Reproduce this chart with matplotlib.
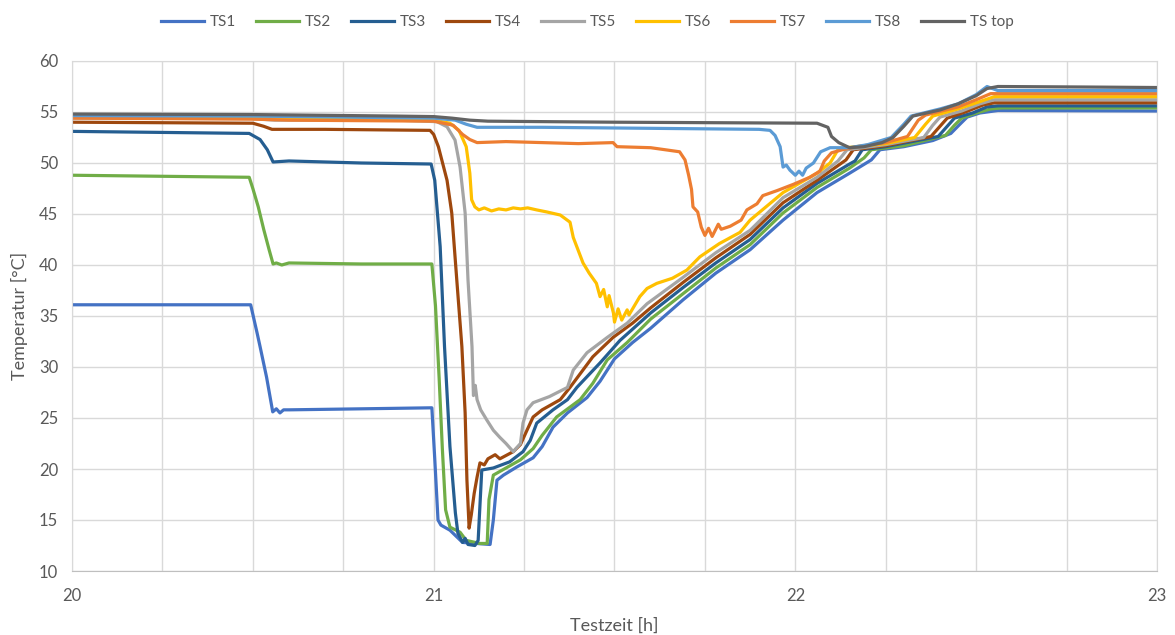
import matplotlib
matplotlib.use('Agg')
import matplotlib.pyplot as plt
from matplotlib.ticker import MultipleLocator

plt.rcParams['font.family'] = ['Lato', 'DejaVu Sans']

# Testzeit [h] / Temperatur [°C] per sensor
t_ts1 = [20.0, 20.494, 20.512, 20.52, 20.538, 20.555, 20.565, 20.575, 20.585, 20.6, 20.8, 20.995,
         21.003, 21.012, 21.02, 21.045, 21.08, 21.156, 21.165, 21.175, 21.193, 21.23, 21.275, 21.3,
         21.33, 21.37, 21.424, 21.46, 21.5, 21.55, 21.6, 21.69, 21.78, 21.875, 21.966, 22.06, 22.15,
         22.21, 22.234, 22.3, 22.38, 22.43, 22.455, 22.475, 22.51, 22.56, 23.0]
ts1 = [36.1, 36.1, 33.3, 32.0, 29.0, 25.6, 25.9, 25.5, 25.8, 25.8, 25.9, 26.0,
       21.0, 15.0, 14.5, 14.0, 12.8, 12.6, 15.0, 18.9, 19.4, 20.2, 21.1, 22.2,
       24.1, 25.5, 27.0, 28.6, 30.8, 32.4, 33.8, 36.6, 39.2, 41.5, 44.4, 47.1, 49.0,
       50.3, 51.3, 51.6, 52.2, 52.9, 53.8, 54.5, 54.9, 55.15, 55.1]

t_ts2 = [20.0, 20.49, 20.5, 20.515, 20.53, 20.545, 20.556, 20.565, 20.58, 20.6, 20.8, 20.995,
         21.005, 21.015, 21.024, 21.033, 21.045, 21.073, 21.09, 21.128, 21.148, 21.153, 21.165,
         21.2, 21.24, 21.275, 21.3, 21.34, 21.405, 21.44, 21.48, 21.535, 21.6, 21.69, 21.78, 21.875,
         21.966, 22.06, 22.15, 22.19, 22.21, 22.3, 22.415, 22.44, 22.46, 22.5, 22.54, 22.57, 23.0]
ts2 = [48.8, 48.6, 47.5, 45.7, 43.5, 41.5, 40.1, 40.2, 40.0, 40.2, 40.1, 40.1,
       36.0, 29.0, 22.0, 16.0, 14.3, 13.8, 13.0, 12.7, 12.7, 17.0, 19.4,
       20.1, 20.9, 22.0, 23.3, 25.1, 26.8, 28.4, 30.7, 32.4, 34.7, 37.2, 39.7, 42.0,
       45.1, 47.6, 49.5, 50.5, 51.3, 51.7, 52.7, 53.7, 54.4, 54.9, 55.3, 55.4, 55.4]

t_ts3 = [20.0, 20.49, 20.52, 20.54, 20.556, 20.6, 20.8, 20.993, 21.003, 21.018, 21.03, 21.045,
         21.06, 21.067, 21.08, 21.087, 21.095, 21.114, 21.123, 21.133, 21.165, 21.21, 21.247,
         21.267, 21.285, 21.33, 21.37, 21.396, 21.46, 21.515, 21.6, 21.69, 21.78, 21.875, 21.966,
         22.06, 22.15, 22.165, 22.185, 22.25, 22.395, 22.42, 22.44, 22.49, 22.53, 22.56, 23.0]
ts3 = [53.1, 52.9, 52.3, 51.3, 50.1, 50.2, 50.0, 49.9, 48.3, 41.8, 32.0, 22.2,
       15.7, 13.7, 12.8, 13.2, 12.6, 12.5, 13.0, 19.9, 20.1, 20.7, 21.7,
       22.8, 24.5, 25.8, 26.8, 28.0, 30.4, 32.6, 35.3, 37.8, 40.2, 42.5, 45.6,
       48.0, 49.9, 50.2, 51.3, 51.6, 52.6, 53.6, 54.4, 54.9, 55.5, 55.6, 55.6]

t_ts4 = [20.0, 20.5, 20.53, 20.553, 20.7, 20.99, 21.0, 21.013, 21.037, 21.05, 21.064, 21.078,
         21.087, 21.092, 21.098, 21.104, 21.112, 21.12, 21.128, 21.14, 21.15, 21.17, 21.183, 21.22,
         21.24, 21.258, 21.275, 21.3, 21.35, 21.377, 21.44, 21.496, 21.55, 21.6, 21.69, 21.78,
         21.875, 21.966, 22.06, 22.14, 22.16, 22.25, 22.375, 22.4, 22.42, 22.47, 22.52, 22.55, 23.0]
ts4 = [54.0, 53.9, 53.6, 53.3, 53.3, 53.2, 52.8, 51.6, 48.3, 45.1, 38.5, 32.0,
       25.5, 18.9, 14.2, 15.5, 17.6, 19.2, 20.6, 20.4, 21.0, 21.4, 21.0, 21.7,
       22.4, 23.8, 25.1, 25.8, 26.8, 28.0, 31.0, 32.9, 34.3, 35.8, 38.3, 40.7,
       43.0, 46.1, 48.3, 50.3, 51.3, 51.7, 52.6, 53.6, 54.4, 55.0, 55.7, 55.9, 55.9]

t_ts5 = [20.0, 20.5, 20.56, 20.9, 21.009, 21.037, 21.059, 21.073, 21.087, 21.095, 21.106, 21.11,
         21.115, 21.12, 21.13, 21.147, 21.165, 21.183, 21.2, 21.22, 21.24, 21.247, 21.258, 21.275,
         21.32, 21.37, 21.386, 21.424, 21.48, 21.535, 21.59, 21.69, 21.78, 21.875, 21.966, 22.06,
         22.118, 22.143, 22.25, 22.355, 22.38, 22.4, 22.46, 22.51, 22.55, 23.0]
ts5 = [54.4, 54.35, 54.2, 54.2, 54.05, 53.55, 52.25, 49.6, 45.1, 38.5, 32.0, 27.2,
       28.2, 26.8, 25.8, 24.8, 23.8, 23.1, 22.5, 21.7, 22.5, 24.5, 25.8, 26.5,
       27.1, 28.0, 29.7, 31.4, 32.9, 34.3, 36.2, 38.8, 41.2, 43.4, 46.6, 48.6,
       50.2, 51.3, 51.8, 52.5, 53.7, 54.5, 55.1, 55.8, 56.2, 56.2]

t_ts6 = [20.0, 20.5, 20.6, 21.0, 21.045, 21.07, 21.09, 21.1, 21.105, 21.114, 21.125, 21.14,
         21.16, 21.18, 21.2, 21.22, 21.24, 21.26, 21.285, 21.313, 21.35, 21.377, 21.386, 21.413,
         21.43, 21.45, 21.46, 21.47, 21.48, 21.485, 21.497, 21.5, 21.51, 21.52, 21.535, 21.54,
         21.57, 21.59, 21.617, 21.66, 21.7, 21.736, 21.79, 21.847, 21.875, 21.966, 22.06, 22.096,
         22.118, 22.14, 22.25, 22.33, 22.36, 22.38, 22.45, 22.5, 22.55, 23.0]
ts6 = [54.5, 54.4, 54.3, 54.2, 53.9, 53.2, 51.6, 49.0, 46.4, 45.7, 45.4, 45.6,
       45.3, 45.5, 45.4, 45.6, 45.5, 45.6, 45.4, 45.2, 44.9, 44.2, 42.7, 40.2,
       39.2, 38.2, 36.9, 37.6, 35.9, 37.0, 35.3, 34.4, 35.7, 34.6, 35.6, 35.1,
       36.9, 37.7, 38.2, 38.7, 39.5, 40.8, 42.1, 43.2, 44.4, 47.1, 49.0, 50.0,
       51.3, 51.5, 51.9, 52.5, 53.8, 54.6, 55.3, 55.9, 56.5, 56.5]

t_ts7 = [20.0, 20.5, 20.6, 21.0, 21.054, 21.08, 21.1, 21.12, 21.2, 21.3, 21.4, 21.496, 21.507,
         21.6, 21.68, 21.695, 21.705, 21.713, 21.717, 21.73, 21.74, 21.75, 21.76, 21.77, 21.787,
         21.795, 21.82, 21.85, 21.866, 21.894, 21.91, 21.95, 21.994, 22.04, 22.068, 22.08, 22.1,
         22.13, 22.17, 22.25, 22.31, 22.34, 22.36, 22.45, 22.5, 22.54, 23.0]
ts7 = [54.4, 54.3, 54.2, 54.1, 53.7, 52.8, 52.3, 52.0, 52.1, 52.0, 51.9, 52.0, 51.6,
       51.5, 51.1, 50.3, 48.8, 47.4, 45.7, 45.2, 43.7, 42.9, 43.6, 42.8, 44.0,
       43.5, 43.8, 44.4, 45.4, 46.0, 46.8, 47.3, 47.9, 48.6, 49.2, 50.2, 51.0,
       51.3, 51.6, 52.0, 52.6, 54.2, 54.7, 55.5, 56.2, 56.8, 56.8]

t_ts8 = [20.0, 20.5, 21.0, 21.06, 21.09, 21.12, 21.3, 21.6, 21.9, 21.93, 21.944, 21.958, 21.966,
         21.975, 21.985, 22.0, 22.01, 22.02, 22.03, 22.05, 22.07, 22.096, 22.15, 22.2, 22.265,
         22.3, 22.32, 22.4, 22.45, 22.5, 22.53, 22.56, 23.0]
ts8 = [54.65, 54.6, 54.4, 54.2, 53.8, 53.5, 53.5, 53.4, 53.3, 53.2, 52.7, 51.6, 49.6,
       49.8, 49.3, 48.8, 49.2, 48.8, 49.5, 50.0, 51.1, 51.5, 51.5, 51.8, 52.5,
       53.8, 54.6, 55.3, 55.8, 56.7, 57.5, 57.1, 57.1]

t_top = [20.0, 20.5, 20.9, 21.0, 21.05, 21.1, 21.15, 21.5, 22.06, 22.09, 22.1, 22.12, 22.15,
         22.19, 22.24, 22.27, 22.3, 22.325, 22.4, 22.45, 22.5, 22.53, 22.56, 22.8, 23.0]
ts_top = [54.8, 54.75, 54.6, 54.55, 54.4, 54.2, 54.1, 54.0, 53.9, 53.5, 52.6, 52.0, 51.5,
          51.6, 52.0, 52.5, 53.6, 54.6, 55.2, 55.8, 56.6, 57.3, 57.5, 57.45, 57.4]

series = [
    ('TS1', t_ts1, ts1, '#4472C4'),
    ('TS2', t_ts2, ts2, '#70AD47'),
    ('TS3', t_ts3, ts3, '#255E91'),
    ('TS4', t_ts4, ts4, '#9E480E'),
    ('TS5', t_ts5, ts5, '#A5A5A5'),
    ('TS6', t_ts6, ts6, '#FFC000'),
    ('TS7', t_ts7, ts7, '#ED7D31'),
    ('TS8', t_ts8, ts8, '#5B9BD5'),
    ('TS top', t_top, ts_top, '#636363'),
]

text_col = '#595959'
grid_col = '#D9D9D9'

fig = plt.figure(figsize=(11.75, 6.35), dpi=100)
ax = fig.add_axes([72 / 1175, 1 - 571 / 635, (1157 - 72) / 1175, (571 - 61) / 635])

for name, t, v, col in series:
    ax.plot(t, v, color=col, lw=2.3, label=name, solid_joinstyle='round')

ax.set_xlim(20, 23)
ax.set_ylim(10, 60)
ax.xaxis.set_major_locator(MultipleLocator(1))
ax.xaxis.set_minor_locator(MultipleLocator(0.25))
ax.yaxis.set_major_locator(MultipleLocator(5))
ax.grid(which='both', color=grid_col, lw=1)
ax.set_axisbelow(True)
for s in ax.spines.values():
    s.set_color(grid_col)
ax.spines['bottom'].set_color('#BFBFBF')
ax.tick_params(which='both', length=0, colors=text_col, labelsize=12)
ax.tick_params(axis='x', pad=12)
ax.tick_params(axis='y', pad=10)

ax.set_xlabel('Testzeit [h]', fontsize=13, color=text_col, labelpad=10)
ax.set_ylabel('Temperatur [°C]', fontsize=13, color=text_col, labelpad=8)

fig.legend(loc='center', bbox_to_anchor=(0.5, 1 - 22 / 635), ncol=9, frameon=False,
           fontsize=11, handlelength=2.8, handletextpad=0.4, columnspacing=1.3,
           labelcolor=text_col)

fig.savefig('out.png', dpi=100)
